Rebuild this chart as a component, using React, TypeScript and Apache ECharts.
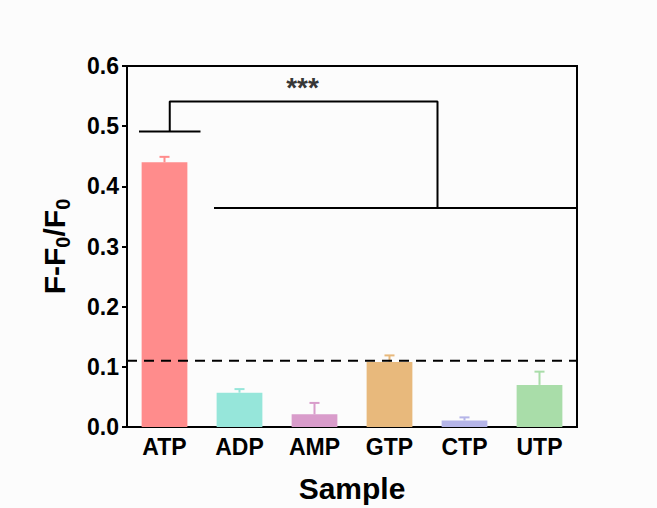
import React, { useEffect, useRef } from "react";
import * as echarts from "echarts";

const categories = ["ATP", "ADP", "AMP", "GTP", "CTP", "UTP"];
const values = [0.44, 0.057, 0.021, 0.108, 0.011, 0.07];
const errors = [0.009, 0.006, 0.019, 0.011, 0.005, 0.022];
const colors = ["#ff8c8c", "#96e6da", "#d99ccb", "#e8b97c", "#b5b5e8", "#a9dda9"];
const yTicks = [0, 0.1, 0.2, 0.3, 0.4, 0.5, 0.6];
const threshold = 0.11;

// significance bracket, in (category-span, value) units
const bracketBase = [[0.16, 0.491], [0.98, 0.491]];
const bracketMain = [[0.57, 0.491], [0.57, 0.541], [4.14, 0.541], [4.14, 0.364]];
const bracketGroup = [[1.16, 0.364], [6, 0.364]];
const starLabel = { text: "***", x: 2.34, y: 0.565 };

const FONT = "Liberation Sans, Arial, sans-serif";

export default function App() {
  const ref = useRef<HTMLDivElement>(null);

  useEffect(() => {
    document.body.style.margin = "0";
    const chart = echarts.init(ref.current!, null, { renderer: "svg" });
    const lineStyle = { color: "#000", width: 2 };
    chart.setOption({
      animation: false,
      backgroundColor: "#fcfcfc",
      grid: {
        left: 127,
        right: 80,
        top: 66,
        bottom: 78,
        show: true,
        borderColor: "#000",
        borderWidth: 2,
        backgroundColor: "transparent",
      },
      xAxis: [
        {
          type: "category",
          data: categories,
          axisLine: { lineStyle: { color: "#000", width: 2 } },
          axisTick: { alignWithLabel: true, inside: true, length: 5, lineStyle: { width: 2, color: "#000" } },
          axisLabel: { color: "#000", fontWeight: "bold", fontSize: 23, fontFamily: FONT, margin: 8 },
          name: "Sample",
          nameLocation: "middle",
          nameGap: 46,
          nameTextStyle: { color: "#000", fontWeight: "bold", fontSize: 30, fontFamily: FONT },
        },
        { type: "value", min: 0, max: 6, show: false },
      ],
      yAxis: {
        type: "value",
        min: 0,
        max: 0.6,
        interval: 0.1,
        splitLine: { show: false },
        axisLine: { show: true, lineStyle: { color: "#000", width: 2 } },
        axisTick: { show: true, length: 5, lineStyle: { width: 2, color: "#000" } },
        axisLabel: {
          color: "#000",
          fontWeight: "bold",
          fontSize: 23,
          fontFamily: FONT,
          margin: 8,
          formatter: (v: number) => (yTicks.some((t) => Math.abs(t - v) < 1e-9) ? v.toFixed(1) : ""),
        },
        name: "F-F{sub|0}/F{sub|0}",
        nameLocation: "middle",
        nameGap: 54,
        nameTextStyle: {
          color: "#000",
          fontWeight: "bold",
          fontSize: 30,
          fontFamily: FONT,
          rich: {
            sub: { fontSize: 20, fontWeight: "bold", fontFamily: FONT, color: "#000", padding: [18, 0, 0, 0] },
          },
        },
      },
      series: [
        {
          type: "bar",
          data: values.map((v, i) => ({ value: v, itemStyle: { color: colors[i] } })),
          barWidth: "61%",
          z: 2,
        },
        {
          type: "custom",
          z: 3,
          data: values.map((v, i) => [i, v, errors[i]]),
          renderItem: (params: any, api: any) => {
            const i = api.value(0);
            const v = api.value(1);
            const e = api.value(2);
            const base = api.coord([i, v]);
            const top = api.coord([i, v + e]);
            const half = 5;
            const style = { stroke: colors[i], lineWidth: 2 };
            return {
              type: "group",
              children: [
                { type: "line", shape: { x1: base[0], y1: base[1], x2: top[0], y2: top[1] }, style },
                { type: "line", shape: { x1: top[0] - half, y1: top[1], x2: top[0] + half, y2: top[1] }, style },
              ],
            };
          },
        },
        {
          type: "line",
          xAxisIndex: 1,
          data: [[0, threshold], [6, threshold]],
          symbol: "none",
          lineStyle: { color: "#000", width: 2, type: [10, 7] },
          z: 4,
        },
        { type: "line", xAxisIndex: 1, data: bracketBase, symbol: "none", lineStyle, z: 4 },
        { type: "line", xAxisIndex: 1, data: bracketMain, symbol: "none", lineStyle, z: 4 },
        { type: "line", xAxisIndex: 1, data: bracketGroup, symbol: "none", lineStyle, z: 4 },
        {
          type: "scatter",
          xAxisIndex: 1,
          data: [[starLabel.x, starLabel.y]],
          symbolSize: 0,
          label: {
            show: true,
            position: "inside",
            formatter: starLabel.text,
            color: "#000",
            fontWeight: "bold",
            fontSize: 28,
            fontFamily: FONT,
          },
          z: 5,
        },
      ],
    });
    return () => chart.dispose();
  }, []);

  return <div ref={ref} style={{ width: 657, height: 508 }} />;
}
